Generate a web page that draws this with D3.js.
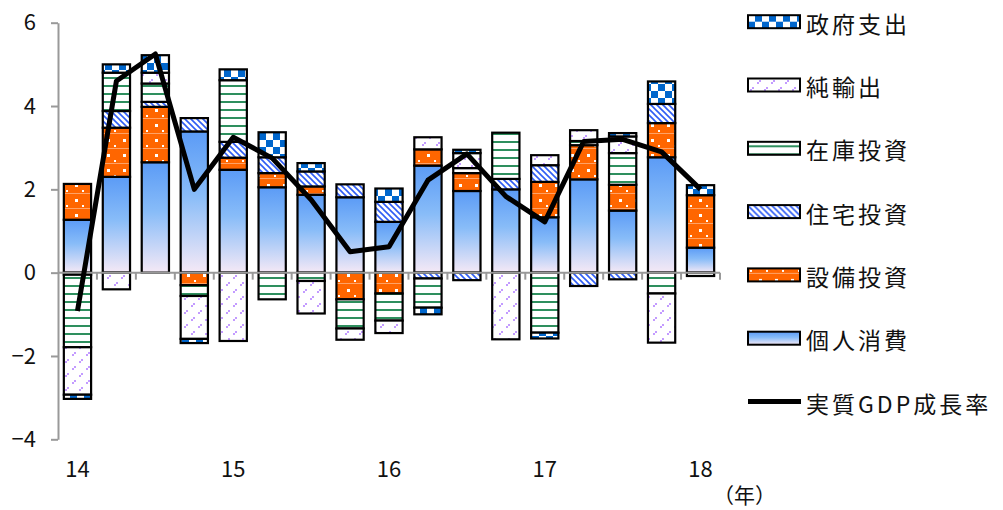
<!DOCTYPE html>
<html>
<head>
<meta charset="utf-8">
<script src="https://cdn.jsdelivr.net/npm/d3@7"></script>
<style>
  body { margin: 0; background: #fff; }
  svg { display: block; font-family: "Noto Sans CJK JP", "Noto Sans", sans-serif; }
</style>
</head>
<body>
<div id="chart"></div>
<script>
//////////
// DATA //
//////////

var quarters = ["14Q1", "14Q2", "14Q3", "14Q4", "15Q1", "15Q2", "15Q3", "15Q4",
                "16Q1", "16Q2", "16Q3", "16Q4", "17Q1", "17Q2", "17Q3", "17Q4", "18Q1"];
var yearLabels = ["14", "15", "16", "17", "18"];
var yTicks = [-4, -2, 0, 2, 4, 6];

// 寄与度 (% pt)
var kojinShohi = [1.27, 2.30, 2.65, 3.39, 2.47, 2.05, 1.87, 1.81, 1.22, 2.57, 1.96, 2.00, 1.33, 2.24, 1.49, 2.77, 0.60];
var setsubiToshi = [0.86, 1.18, 1.33, -0.30, 0.29, 0.34, 0.20, -0.64, -0.50, 0.39, 0.43, 0, 0.85, 0.82, 0.62, 0.82, 1.26];
var jutakuToshi = [-0.05, 0.40, 0.12, 0.32, 0.38, 0.38, 0.36, 0.31, 0.48, -0.14, -0.18, 0.25, 0.40, -0.32, -0.16, 0.46, 0];
var zaikoToshi = [-1.74, 0.92, 0.44, -0.26, 1.48, -0.64, -0.20, -0.70, -0.65, -0.70, 0.12, 1.11, -1.44, 0.10, 0.76, -0.50, -0.08];
var junYushutsu = [-1.14, -0.40, 0.26, -1.03, -1.64, 0, -0.78, -0.27, -0.30, 0.29, 0.36, -1.60, 0.24, 0.26, 0.40, -1.18, 0];
var seifuShishutsu = [-0.10, 0.20, 0.42, -0.10, 0.26, 0.60, 0.20, 0, 0.32, -0.16, 0.08, 0, -0.14, 0, 0.08, 0.54, 0.24];
var gdpGrowth = [-0.92, 4.60, 5.25, 2.00, 3.25, 2.75, 1.75, 0.50, 0.62, 2.22, 2.85, 1.83, 1.22, 3.15, 3.20, 2.90, 2.00];

var seriesNames = ["個人消費", "設備投資", "住宅投資", "在庫投資", "純輸出", "政府支出"];
var seriesValues = [kojinShohi, setsubiToshi, jutakuToshi, zaikoToshi, junYushutsu, seifuShishutsu];
var seriesFill = ["url(#grad-kojin)", "url(#pat-setsubi)", "url(#pat-jutaku)",
                  "url(#pat-zaiko)", "url(#pat-yushutsu)", "url(#pat-seifu)"];

var table = quarters.map(function (q, i) {
  var row = { q: q };
  seriesNames.forEach(function (name, k) { row[name] = seriesValues[k][i]; });
  return row;
});

////////////////
// DIMENSIONS //
////////////////

var svgWidth = 1003, svgHeight = 510;
var plot = { left: 58, right: 720, top: 22.7, bottom: 439.3 };

var svg = d3.select("#chart").append("svg")
  .attr("width", svgWidth)
  .attr("height", svgHeight);

var x = d3.scaleBand()
  .domain(quarters)
  .range([plot.left, plot.right])
  .paddingInner(0.3)
  .paddingOuter(0.15);

var y = d3.scaleLinear()
  .domain([-4, 6])
  .range([plot.bottom, plot.top]);

//////////////
// PATTERNS //
//////////////

var defs = svg.append("defs");

var grad = defs.append("linearGradient").attr("id", "grad-kojin")
  .attr("x1", 0).attr("y1", 0).attr("x2", 0).attr("y2", 1);
grad.append("stop").attr("offset", "0%").attr("stop-color", "#5b9bf6");
grad.append("stop").attr("offset", "45%").attr("stop-color", "#88bcf8");
grad.append("stop").attr("offset", "100%").attr("stop-color", "#f5e9f6");

// orange with white dots
var pSet = defs.append("pattern").attr("id", "pat-setsubi")
  .attr("patternUnits", "userSpaceOnUse").attr("width", 16).attr("height", 15);
pSet.append("rect").attr("width", 16).attr("height", 15).attr("fill", "#ff6600");
pSet.append("rect").attr("x", 11).attr("y", 4).attr("width", 3).attr("height", 3).attr("fill", "#fff");
pSet.append("rect").attr("x", 2).attr("y", 10).attr("width", 2).attr("height", 2).attr("fill", "#fff");
pSet.append("rect").attr("x", 0).attr("y", 13).attr("width", 16).attr("height", 1).attr("fill", "#ffa266");

// blue downward diagonal
var pJut = defs.append("pattern").attr("id", "pat-jutaku")
  .attr("patternUnits", "userSpaceOnUse").attr("width", 6).attr("height", 6);
pJut.append("rect").attr("width", 6).attr("height", 6).attr("fill", "#fff");
pJut.append("path").attr("d", "M-1,-1L7,7M-1,5L1,7M5,-1L7,1")
  .attr("stroke", "#2f5df5").attr("stroke-width", 1.6);

// green horizontal lines
var pZai = defs.append("pattern").attr("id", "pat-zaiko")
  .attr("patternUnits", "userSpaceOnUse").attr("width", 8).attr("height", 8);
pZai.append("rect").attr("width", 8).attr("height", 8).attr("fill", "#fff");
pZai.append("rect").attr("y", 5).attr("width", 8).attr("height", 2).attr("fill", "#2e8f5e");

// lavender confetti
var pYu = defs.append("pattern").attr("id", "pat-yushutsu")
  .attr("patternUnits", "userSpaceOnUse").attr("width", 14).attr("height", 14);
pYu.append("rect").attr("width", 14).attr("height", 14).attr("fill", "#fff");
[[2, 4], [4, 2], [9, 11], [11, 9]].forEach(function (p) {
  pYu.append("rect").attr("x", p[0]).attr("y", p[1]).attr("width", 2).attr("height", 2).attr("fill", "#c39bff");
});

// blue checker
var pSei = defs.append("pattern").attr("id", "pat-seifu")
  .attr("patternUnits", "userSpaceOnUse").attr("width", 14).attr("height", 14);
pSei.append("rect").attr("width", 14).attr("height", 14).attr("fill", "#fff");
pSei.append("rect").attr("width", 7).attr("height", 7).attr("fill", "#0066cc");
pSei.append("rect").attr("x", 7).attr("y", 7).attr("width", 7).attr("height", 7).attr("fill", "#0066cc");

//////////
// BARS //
//////////

var stacked = d3.stack()
  .keys(seriesNames)
  .offset(d3.stackOffsetDiverging)(table);

svg.append("g").selectAll("g")
  .data(stacked)
  .enter().append("g")
  .attr("fill", function (d, k) { return seriesFill[k]; })
  .selectAll("rect")
  .data(function (d) { return d.filter(function (s) { return s[1] !== s[0]; }); })
  .enter().append("rect")
  .attr("x", function (d) { return x(d.data.q); })
  .attr("width", x.bandwidth())
  .attr("y", function (d) { return y(Math.max(d[0], d[1])); })
  .attr("height", function (d) { return Math.abs(y(d[0]) - y(d[1])); })
  .attr("stroke", "#000")
  .attr("stroke-width", 2.2);

//////////
// AXES //
//////////

var yAxis = d3.axisLeft(y).tickValues(yTicks).tickSize(7).tickSizeOuter(0).tickPadding(15);

var gy = svg.append("g")
  .attr("transform", "translate(" + plot.left + ",0)")
  .call(yAxis);
gy.select(".domain").attr("stroke", "#999").attr("stroke-width", 2);
gy.selectAll(".tick line").attr("stroke", "#999").attr("stroke-width", 2);
gy.selectAll(".tick text")
  .attr("fill", "#111")
  .style("font-size", "22px")
  .style("font-family", "'Noto Sans CJK JP', sans-serif");

// x axis at zero with ticks between quarters
var gx = svg.append("g");
gx.append("line")
  .attr("x1", plot.left).attr("x2", plot.right)
  .attr("y1", y(0)).attr("y2", y(0))
  .attr("stroke", "#999").attr("stroke-width", 2);
gx.selectAll(".xtick")
  .data(d3.range(1, quarters.length + 1))
  .enter().append("line")
  .attr("class", "xtick")
  .attr("x1", function (k) { return plot.left + x.step() * k; })
  .attr("x2", function (k) { return plot.left + x.step() * k; })
  .attr("y1", y(0)).attr("y2", y(0) + 7)
  .attr("stroke", "#999").attr("stroke-width", 2);

svg.append("g").selectAll("text")
  .data(yearLabels)
  .enter().append("text")
  .attr("x", function (d, i) { return x(quarters[i * 4]) + x.bandwidth() / 2; })
  .attr("y", 477)
  .attr("text-anchor", "middle")
  .style("font-size", "22px")
  .attr("fill", "#111")
  .text(function (d) { return d; });

svg.append("text")
  .attr("x", 713)
  .attr("y", 503)
  .style("font-size", "21px")
  .attr("fill", "#111")
  .text("（年）");

//////////////
// GDP LINE //
//////////////

var line = d3.line()
  .x(function (d, i) { return x(quarters[i]) + x.bandwidth() / 2; })
  .y(function (d) { return y(d); });

svg.append("path")
  .datum(gdpGrowth)
  .attr("d", line)
  .attr("fill", "none")
  .attr("stroke", "#000")
  .attr("stroke-width", 5)
  .attr("stroke-linejoin", "round");

////////////
// LEGEND //
////////////

var legendItems = [
  { name: "政府支出", fill: seriesFill[5] },
  { name: "純輸出", fill: seriesFill[4] },
  { name: "在庫投資", fill: seriesFill[3] },
  { name: "住宅投資", fill: seriesFill[2] },
  { name: "設備投資", fill: seriesFill[1] },
  { name: "個人消費", fill: seriesFill[0] },
  { name: "実質GDP成長率", fill: null }
];

var legend = svg.append("g").selectAll("g")
  .data(legendItems)
  .enter().append("g")
  .attr("transform", function (d, i) { return "translate(748," + (21.7 + i * 63.3) + ")"; });

legend.filter(function (d) { return d.fill; })
  .append("rect")
  .attr("x", 0).attr("y", -6.5)
  .attr("width", 52).attr("height", 13)
  .attr("fill", function (d) { return d.fill; })
  .attr("stroke", "#000")
  .attr("stroke-width", 2);

legend.filter(function (d) { return !d.fill; })
  .append("line")
  .attr("x1", 0).attr("x2", 53)
  .attr("stroke", "#000")
  .attr("stroke-width", 5);

legend.append("text")
  .attr("x", 58)
  .attr("y", 1)
  .attr("dominant-baseline", "central")
  .style("font-size", "23px")
  .style("letter-spacing", "3px")
  .attr("fill", "#111")
  .text(function (d) { return d.name; });
</script>
</body>
</html>
